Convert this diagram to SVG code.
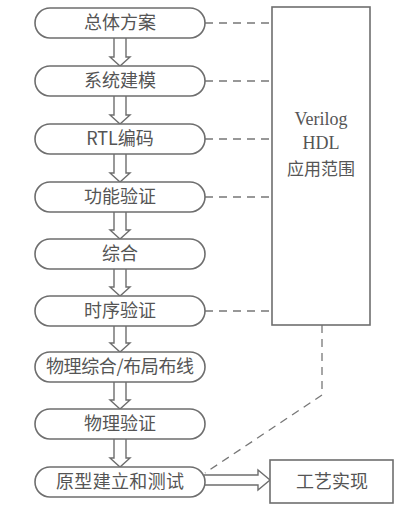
<svg xmlns="http://www.w3.org/2000/svg" width="419" height="510" viewBox="0 0 419 510">
<style>
.node rect{fill:#fff;stroke:#6e6e6e;stroke-width:1.6}
.node text{font-family:"Noto Sans CJK SC","Noto Sans",sans-serif;font-size:18px;fill:#555;text-anchor:middle}
.dash{fill:none;stroke:#777;stroke-width:1.3;stroke-dasharray:8 6}
.harrow{fill:#fff;stroke:#6e6e6e;stroke-width:1.4;stroke-linejoin:miter}
.box{fill:#fff;stroke:#6e6e6e;stroke-width:1.6}
.serif{font-family:"Liberation Serif","Noto Sans CJK SC",serif;font-size:18px;fill:#555;text-anchor:middle}
.cjk{font-family:"Noto Sans CJK SC",sans-serif;font-size:17px;fill:#555;text-anchor:middle}
</style>
<rect width="419" height="510" fill="#fff"/>
<g id="connectors">
<path class="harrow" d="M114,38 V57 H110 L120,66 L130,57 H126 V38"/>
<path class="harrow" d="M114,96 V115 H110 L120,124 L130,115 H126 V96"/>
<path class="harrow" d="M114,154 V173 H110 L120,182 L130,173 H126 V154"/>
<path class="harrow" d="M114,212 V230 H110 L120,239 L130,230 H126 V212"/>
<path class="harrow" d="M114,269 V287 H110 L120,296 L130,287 H126 V269"/>
<path class="harrow" d="M114,326 V343 H110 L120,352 L130,343 H126 V326"/>
<path class="harrow" d="M114,382 V400 H110 L120,409 L130,400 H126 V382"/>
<path class="harrow" d="M114,439 V458 H110 L120,467 L130,458 H126 V439"/>
<path class="harrow" d="M204,475 H258 V470 L270,480 L258,490 V485 H204"/>
<path class="dash" d="M205,23 H272"/>
<path class="dash" d="M205,81 H272"/>
<path class="dash" d="M205,139 H272"/>
<path class="dash" d="M205,197 H272"/>
<path class="dash" d="M205,311 H272"/>
<path class="dash" d="M322,325 V395 L205,473"/>
</g>
<g id="n1" class="node"><rect x="35" y="8" width="170" height="30" rx="15"/><text x="120" y="29">总体方案</text></g>
<g id="n2" class="node"><rect x="35" y="66" width="170" height="30" rx="15"/><text x="120" y="87">系统建模</text></g>
<g id="n3" class="node"><rect x="35" y="124" width="170" height="30" rx="15"/><text x="120" y="145">RTL编码</text></g>
<g id="n4" class="node"><rect x="35" y="182" width="170" height="30" rx="15"/><text x="120" y="203">功能验证</text></g>
<g id="n5" class="node"><rect x="35" y="239" width="170" height="30" rx="15"/><text x="120" y="260">综合</text></g>
<g id="n6" class="node"><rect x="35" y="296" width="170" height="30" rx="15"/><text x="120" y="317">时序验证</text></g>
<g id="n7" class="node"><rect x="35" y="352" width="170" height="30" rx="15"/><text x="120" y="373" textLength="148" lengthAdjust="spacing">物理综合/布局布线</text></g>
<g id="n8" class="node"><rect x="35" y="409" width="170" height="30" rx="15"/><text x="120" y="430">物理验证</text></g>
<g id="n9" class="node"><rect x="35" y="467" width="170" height="30" rx="15"/><text x="120" y="488" textLength="128" lengthAdjust="spacing">原型建立和测试</text></g>
<g id="verilog"><rect class="box" x="272" y="7" width="98" height="318"/>
<text class="serif" x="321" y="125">Verilog</text>
<text class="serif" x="321" y="149">HDL</text>
<text class="cjk" x="321" y="175">应用范围</text></g>
<g id="process"><rect class="box" x="270" y="460" width="123" height="43"/>
<text class="cjk" x="332" y="488" style="font-size:18px">工艺实现</text></g>
</svg>
